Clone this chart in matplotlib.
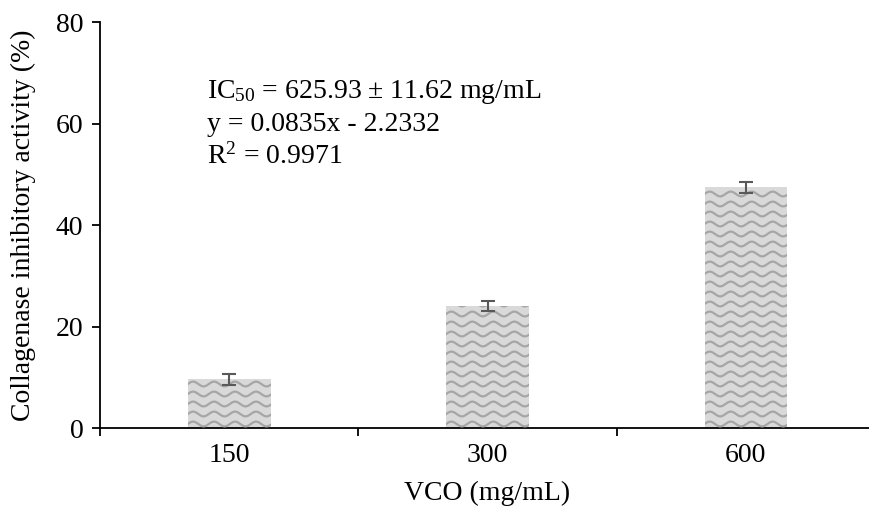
import numpy as np
import matplotlib
matplotlib.use('Agg')
import matplotlib.pyplot as plt

# ─── data ─────────────────────────────
categories = ['150', '300', '600']
activity = [9.6, 24.0, 47.4]
activity_err = [1.1, 1.0, 1.0]
y_ticks = [0, 20, 40, 60, 80]
annot_lines = ['IC$_{50}$ = 625.93 ± 11.62 mg/mL',
               'y = 0.0835x - 2.2332',
               'R$^{2}$ = 0.9971']

plt.rcParams['font.family'] = ['Liberation Serif', 'DejaVu Serif']
plt.rcParams['mathtext.fontset'] = 'custom'
plt.rcParams['mathtext.rm'] = 'Liberation Serif'
plt.rcParams['mathtext.it'] = 'Liberation Serif:italic'

FS = 20
fig = plt.figure(figsize=(8.69, 5.11), dpi=100)
ax = fig.add_axes([100 / 869, 1 - 428 / 511, 775 / 869, 406 / 511])

x = np.arange(len(categories))
bars = ax.bar(x, activity, width=0.32, color='#d9d9d9', edgecolor='none', zorder=2)
ax.errorbar(x, activity, yerr=activity_err, fmt='none', ecolor='#595959',
            elinewidth=1.5, capsize=5, capthick=1.5, zorder=4)

# wavy fill texture, clipped to each bar
px_x = 1 / 258.5
px_y = 80 / 406
for b in bars:
    x0, w, h = b.get_x(), b.get_width(), b.get_height()
    xs = np.linspace(x0, x0 + w, 200)
    wave = 2.4 * px_y * np.sin(2 * np.pi * (xs - x0) / (21 * px_x))
    row = 4 * px_y
    while row < h + 3 * px_y:
        ln, = ax.plot(xs, row + wave, color='#a6a6a6', lw=1.6, zorder=3)
        ln.set_clip_path(b)
        row += 10 * px_y

ax.set_xlim(-0.5, len(categories) - 0.5)
ax.set_ylim(0, 80)
ax.set_yticks(y_ticks)
ax.set_xticks(x)
ax.set_xticklabels(categories)
ax.set_xticks(np.arange(len(categories) + 1) - 0.5, minor=True)
ax.tick_params(axis='x', which='major', length=0, pad=11, labelsize=FS)
ax.tick_params(axis='x', which='minor', length=6, width=1.3, direction='out')
ax.tick_params(axis='y', length=6, width=1.3, direction='out', labelsize=FS, pad=6)

for s in ['top', 'right']:
    ax.spines[s].set_visible(False)
for s in ['left', 'bottom']:
    ax.spines[s].set_linewidth(1.3)

ax.set_xlabel('VCO (mg/mL)', fontsize=FS, labelpad=9)
ax.set_ylabel('Collagenase inhibitory activity (%)', fontsize=FS, labelpad=14)

for i, t in enumerate(annot_lines):
    ax.text(0.138, 0.828 - i * 0.08, t, transform=ax.transAxes, fontsize=FS,
            ha='left', va='center')

fig.savefig('out.png', dpi=100)
